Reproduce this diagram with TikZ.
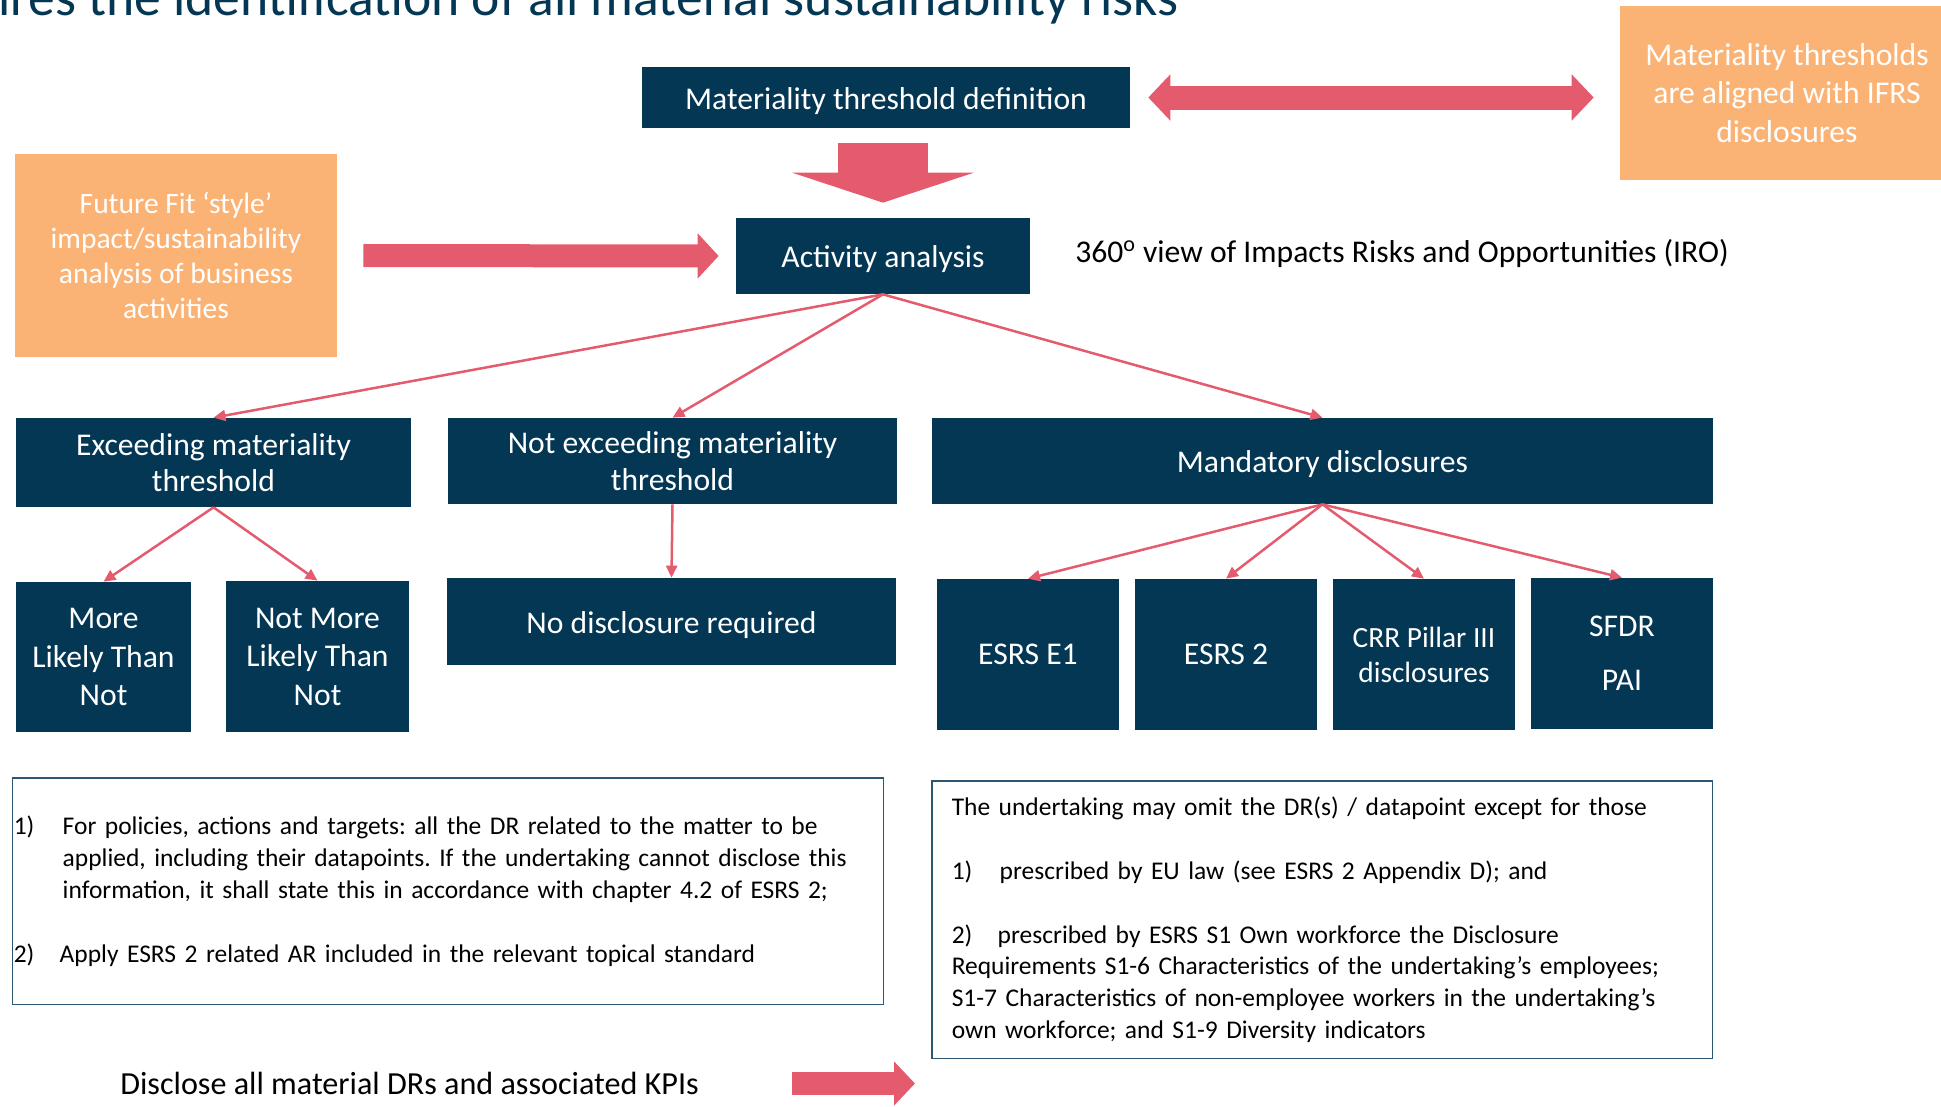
\documentclass[tikz,border=0pt]{standalone}
\usepackage{fontspec}
\setmainfont{Carlito}
\usetikzlibrary{arrows.meta,positioning}
\definecolor{navy}{HTML}{033754}
\definecolor{coral}{HTML}{E55B6E}
\definecolor{peachc}{HTML}{FBB375}
\definecolor{frame}{HTML}{2D5673}
\frenchspacing
\newcommand{\sinktext}[1]{\raisebox{-0.07cm}[\height][\depth]{#1}}

\begin{document}
\begin{tikzpicture}[x=0.02cm,y=-0.02cm,
  dark/.style={fill=navy,text=white,align=center,inner sep=0pt,font=\fontsize{18}{20.5}\selectfont},
  peach/.style={fill=peachc,text=white,align=center,inner sep=0pt,font=\fontsize{18}{20.5}\selectfont},
  note/.style={draw=frame,line width=0.03cm,anchor=north west,inner ysep=0pt,align=left,font=\fontsize{14.5}{18.2}\selectfont},
  link/.style={draw=coral,line width=0.05cm,-{Triangle[length=0.24cm,width=0.22cm]}},
  fat/.style={draw=coral,line width=#1}
  ]

  \useasboundingbox (0,0) rectangle (1941,1106);

  \node[anchor=base west,inner sep=0pt,text=navy,font=\fontsize{30.5}{36}\selectfont] (title) at (-2,15)
    {ires the identification of all material sustainability risks};

  \node[dark,minimum width=9.76cm,minimum height=1.22cm] (defi) at (886,97.5) {\sinktext{Materiality threshold definition}};
  \node[peach,minimum width=6.68cm,minimum height=3.48cm,font=\fontsize{18}{21.9}\selectfont] (ifrs) at (1787,93)
    {Materiality thresholds\\are aligned with IFRS\\disclosures};
  \node[peach,minimum width=6.44cm,minimum height=4.06cm,font=\fontsize{16.8}{19.9}\selectfont] (fut) at (176,255.5)
    {Future Fit ‘style’\\impact/sustainability\\analysis of business\\activities};
  \node[dark,minimum width=5.88cm,minimum height=1.52cm] (act) at (883,256) {\sinktext{Activity analysis}};
  \node[anchor=west,inner sep=0pt,font=\fontsize{18}{22}\selectfont] (iro) at (1075,253)
    {360\textsuperscript{o} view of Impacts Risks and Opportunities (IRO)};

  \node[dark,minimum width=7.9cm,minimum height=1.78cm] (exc) at (213.5,462.5) {Exceeding materiality\\threshold};
  \node[dark,minimum width=8.98cm,minimum height=1.72cm,font=\fontsize{18}{21}\selectfont] (nexc) at (672.5,461)
    {Not exceeding materiality\\threshold};
  \node[dark,minimum width=15.62cm,minimum height=1.72cm] (mand) at (1322.5,461) {\sinktext{Mandatory disclosures}};

  \node[dark,minimum width=3.5cm,minimum height=3cm,font=\fontsize{18}{21.9}\selectfont] (mlt) at (103.5,657)
    {More\\Likely Than\\Not};
  \node[dark,minimum width=3.66cm,minimum height=3.02cm,font=\fontsize{18}{21.9}\selectfont] (nmlt) at (317.5,656.5)
    {Not More\\Likely Than\\Not};
  \node[dark,minimum width=8.98cm,minimum height=1.74cm] (nodis) at (671.5,621.5) {\sinktext{No disclosure required}};

  \node[dark,minimum width=3.64cm,minimum height=3.02cm] (e1) at (1028,654.5) {ESRS E1};
  \node[dark,minimum width=3.64cm,minimum height=3.02cm] (es2) at (1226,654.5) {ESRS 2};
  \node[dark,minimum width=3.64cm,minimum height=3.02cm,font=\fontsize{16.7}{19.9}\selectfont] (crr) at (1424,654.5)
    {CRR Pillar III\\disclosures};
  \node[dark,minimum width=3.64cm,minimum height=3.02cm] (sfdr) at (1622,653.5) {SFDR\\[10pt]PAI};

  \node[note,inner xsep=0.02cm,text width=17.38cm,minimum height=4.54cm] (left) at (12,777)
    {\makebox[0.98cm][l]{1)}For policies, actions and targets: all the DR related to the matter to be\\
     \hspace*{0.98cm}applied, including their datapoints. If the undertaking cannot disclose this\\
     \hspace*{0.98cm}information, it shall state this in accordance with chapter 4.2 of ESRS 2;\\[0.64cm]
     \makebox[0.92cm][l]{2)}Apply ESRS 2 related AR included in the relevant topical standard};
  \node[note,inner xsep=0.4cm,text width=14.82cm,minimum height=5.56cm] (right) at (931,780)
    {The undertaking may omit the DR(s) / datapoint except for those\\[0.64cm]
     \makebox[0.96cm][l]{1)}prescribed by EU law (see ESRS 2 Appendix D); and\\[0.64cm]
     \makebox[0.92cm][l]{2)}prescribed by ESRS S1 Own workforce the Disclosure\\
     Requirements S1-6 Characteristics of the undertaking’s employees;\\
     S1-7 Characteristics of non-employee workers in the undertaking’s\\
     own workforce; and S1-9 Diversity indicators};

  \node[anchor=west,inner sep=0pt,font=\fontsize{18.3}{22}\selectfont] (kpi) at (120,1083)
    {Disclose all material DRs and associated KPIs};
  \coordinate (kpistart) at (792,1083.5);
  \coordinate (kpiend) at (915,1083.5);

  \draw[fat=0.48cm,{Triangle[length=0.44cm,width=0.9cm]}-{Triangle[length=0.44cm,width=0.9cm]},
    shorten <=0.36cm,shorten >=0.52cm] (defi.east) -- (defi.east -| ifrs.west);
  \draw[fat=1.8cm,-{Triangle[length=0.6cm,width=3.62cm]},shorten <=0.3cm,shorten >=0.3cm]
    (act.north |- defi.south) -- (act.north);
  \draw[fat=0.46cm,-{Triangle[length=0.42cm,width=0.88cm]},shorten <=0.52cm,shorten >=0.34cm]
    (fut.east) -- (act.west);
  \draw[fat=0.46cm,-{Triangle[length=0.42cm,width=0.86cm]}] (kpistart) -- (kpiend);

  \draw[link] (act.south) -- (exc.north);
  \draw[link] (act.south) -- (nexc.north);
  \draw[link] (act.south) -- (mand.north);
  \draw[link] (exc.south) -- (mlt.north);
  \draw[link] (exc.south) -- (nmlt.north);
  \draw[link] (nexc.south) -- (nodis.north);
  \draw[link] (mand.south) -- (e1.north);
  \draw[link] (mand.south) -- (es2.north);
  \draw[link] (mand.south) -- (crr.north);
  \draw[link] (mand.south) -- (sfdr.north);

\end{tikzpicture}
\end{document}
